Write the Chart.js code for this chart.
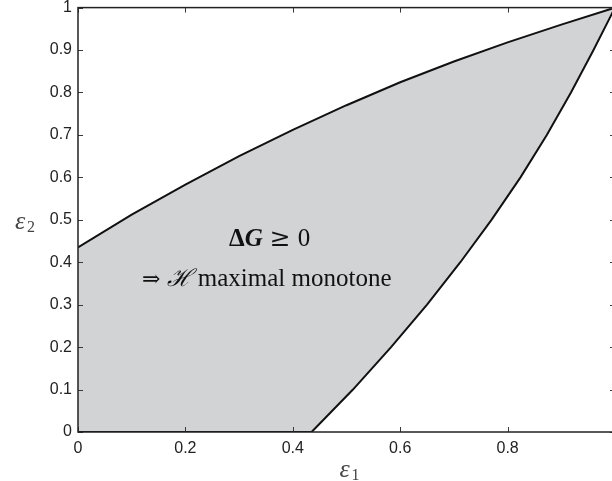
<!DOCTYPE html>
<html lang="en">
<head>
  <meta charset="UTF-8" />
  <title>Region plot</title>
  <script src="https://cdn.jsdelivr.net/npm/chart.js"></script>
  <style>
    html, body {
      margin: 0;
      padding: 0;
      background: #ffffff;
      overflow: hidden;
    }
    canvas {
      display: block;
      margin-top: -8px;
    }
  </style>
</head>
<body>
  <!-- a little larger than the window: the right edge of the box sits just past it -->
  <canvas id="regionChart" width="622" height="489"></canvas>

  <script>
    // upper boundary: eps2 as a function of eps1
    const upperX = [0, 0.1, 0.2, 0.3, 0.4, 0.5, 0.6, 0.7, 0.8, 0.9, 1];
    const upperY = [0.435, 0.512, 0.583, 0.650, 0.712, 0.770, 0.824, 0.873, 0.918, 0.960, 1];

    // lower boundary (runs along the eps1 axis, then the curve up to (1,1))
    const lowerX = [0, 0.435, 0.512, 0.583, 0.650, 0.712, 0.770, 0.824, 0.873, 0.918, 0.960, 1];
    const lowerY = [0, 0, 0.1, 0.2, 0.3, 0.4, 0.5, 0.6, 0.7, 0.8, 0.9, 1];

    const xTicks = [0, 0.2, 0.4, 0.6, 0.8, 1];
    const xTickLabels = ['0', '0.2', '0.4', '0.6', '0.8', ''];
    const yTicks = [0, 0.1, 0.2, 0.3, 0.4, 0.5, 0.6, 0.7, 0.8, 0.9, 1];
    const yTickLabels = ['0', '0.1', '0.2', '0.3', '0.4', '0.5', '0.6', '0.7', '0.8', '0.9', '1'];

    const upperPts = upperX.map((v, i) => ({ x: v, y: upperY[i] }));
    const lowerPts = lowerX.map((v, i) => ({ x: v, y: lowerY[i] }));

    function drawParts(ctx, parts, cx, base) {
      let w = 0;
      parts.forEach(p => {
        ctx.font = p.f;
        p.w = ctx.measureText(p.t).width + (p.gap || 0) * 2;
        w += p.w;
      });
      let px = cx - w / 2;
      parts.forEach(p => {
        ctx.font = p.f;
        ctx.fillText(p.t, px + (p.gap || 0), base);
        px += p.w;
      });
    }

    // frame, inward ticks, axis symbols and the text in the region
    const decorPlugin = {
      id: 'decor',
      afterDatasetsDraw(chart) {
        const { ctx, chartArea: a, scales: { x, y } } = chart;
        ctx.save();

        ctx.strokeStyle = '#3a3a3a';
        ctx.lineWidth = 1;
        ctx.beginPath();
        xTicks.forEach(v => {
          const px = Math.round(x.getPixelForValue(v)) + 0.5;
          ctx.moveTo(px, a.bottom); ctx.lineTo(px, a.bottom - 5);
          ctx.moveTo(px, a.top); ctx.lineTo(px, a.top + 5);
        });
        yTicks.forEach(v => {
          const py = Math.round(y.getPixelForValue(v)) + 0.5;
          ctx.moveTo(a.left, py); ctx.lineTo(a.left + 5, py);
          ctx.moveTo(a.right, py); ctx.lineTo(a.right - 5, py);
        });
        ctx.stroke();

        ctx.strokeStyle = '#222';
        ctx.lineWidth = 1.5;
        ctx.strokeRect(a.left, a.top, a.right - a.left, a.bottom - a.top);

        ctx.fillStyle = '#111';
        ctx.textBaseline = 'alphabetic';
        ctx.textAlign = 'left';

        const cx = x.getPixelForValue(0.357);
        drawParts(ctx, [
          { t: 'Δ', f: 'bold 25px "Liberation Serif"' },
          { t: 'G', f: 'italic bold 25px "Liberation Serif"' },
          { t: '≥', f: '25px "DejaVu Serif"', gap: 7 },
          { t: '0', f: '25px "Liberation Serif"' }
        ], cx, y.getPixelForValue(0.438));

        drawParts(ctx, [
          { t: '⇒', f: '22px "DejaVu Serif"' },
          { t: ' ', f: '25px "Liberation Serif"' },
          { t: 'ℋ', f: 'italic 24px "DejaVu Serif"' },
          { t: ' maximal monotone', f: '25px "Liberation Serif"' }
        ], cx - 3, y.getPixelForValue(0.344));

        // axis symbols, placed from the box edges
        const mid = x.getPixelForValue(0.5);
        ctx.fillStyle = '#444';
        ctx.font = 'italic 26px "Liberation Serif"';
        ctx.fillText('ε', mid - 7, a.bottom + 45);
        ctx.font = '16px "Liberation Serif"';
        ctx.fillText('1', mid + 5, a.bottom + 48);
        const yMid = y.getPixelForValue(0.478);
        ctx.font = 'italic 26px "Liberation Serif"';
        ctx.fillText('ε', a.left - 63, yMid);
        ctx.font = '16px "Liberation Serif"';
        ctx.fillText('2', a.left - 51, yMid + 3);

        ctx.restore();
      }
    };

    new Chart(document.getElementById('regionChart'), {
      type: 'scatter',
      data: {
        datasets: [
          {
            label: 'upper',
            data: upperPts,
            showLine: true,
            borderColor: '#111',
            borderWidth: 2,
            pointRadius: 0,
            tension: 0,
            fill: '+1',
            backgroundColor: 'rgb(210, 211, 213)'
          },
          {
            label: 'lower',
            data: lowerPts,
            showLine: true,
            borderColor: '#111',
            borderWidth: 2,
            pointRadius: 0,
            tension: 0,
            fill: false
          }
        ]
      },
      options: {
        responsive: false,
        animation: false,
        layout: { padding: { top: 0, right: 1, left: 0, bottom: 0 } },
        plugins: {
          legend: { display: false },
          tooltip: { enabled: false },
          filler: { drawTime: 'beforeDatasetsDraw' }
        },
        scales: {
          x: {
            type: 'linear',
            min: 0,
            max: 1,
            grid: { display: false, drawTicks: false },
            border: { display: false },
            afterFit: s => { s.height = 49; },
            afterBuildTicks: s => { s.ticks = xTicks.map(v => ({ value: v })); },
            ticks: {
              padding: 7,
              color: '#222',
              font: { family: 'Liberation Sans', size: 16 },
              maxRotation: 0,
              callback: (v, i) => xTickLabels[i]
            }
          },
          y: {
            type: 'linear',
            min: 0,
            max: 1,
            grid: { display: false, drawTicks: false },
            border: { display: false },
            afterFit: s => { s.width = 78; },
            afterBuildTicks: s => { s.ticks = yTicks.map(v => ({ value: v })); },
            ticks: {
              padding: 6,
              color: '#222',
              font: { family: 'Liberation Sans', size: 16 },
              callback: (v, i) => yTickLabels[i]
            }
          }
        }
      },
      plugins: [decorPlugin]
    });
  </script>
</body>
</html>
